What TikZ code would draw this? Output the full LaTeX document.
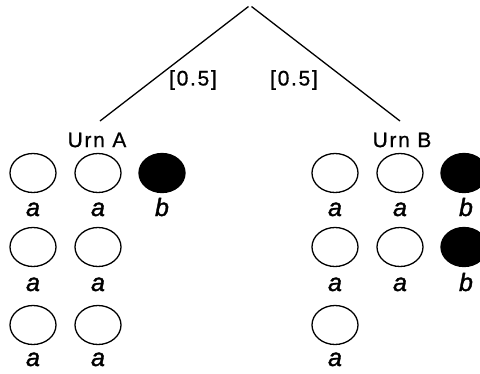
\documentclass[tikz,border=0pt]{standalone}
\usepackage{fontspec}
\setmainfont{Liberation Sans}
\usetikzlibrary{shapes.geometric}
\newfontfamily\spacedfont[LetterSpace=8,FakeBold=0.8]{Liberation Sans}
\newfontfamily\labelfont[FakeBold=1.5]{Liberation Sans Italic}
\tikzset{
  ball/.style={ellipse, draw=black, line width=1.3pt, minimum width=46pt, minimum height=39pt, inner sep=0pt},
  whiteball/.style={ball, fill=white},
  blackball/.style={ball, fill=black},
  lbl/.style={font=\labelfont\fontsize{25}{25}\selectfont, inner sep=0pt, anchor=base},
  urn/.style={font=\spacedfont\fontsize{21}{21}\selectfont, inner sep=0pt},
  prob/.style={font=\spacedfont\fontsize{21}{21}\selectfont, inner sep=0pt},
  branch/.style={line width=1.3pt}
}
\begin{document}
\begin{tikzpicture}[x=1pt,y=-1pt]
\useasboundingbox (0,0) rectangle (480,373);
\clip (0,0) rectangle (480,373);
% tree
\coordinate (topA) at (248.5,6.5);
\coordinate (topB) at (251.5,6.5);
\coordinate (endA) at (100,121);
\coordinate (endB) at (400,121);
\draw[branch] (topA) -- (endA);
\draw[branch] (topB) -- (endB);
\node[prob] (pA) at (193,80) {[0.5]};
\node[prob] (pB) at (294,80) {[0.5]};
\node[urn] (urnA) at (97,140) {Urn A};
\node[urn] (urnB) at (402,140) {Urn B};
% Urn A
\node[whiteball] (a11) at (33,173) {};
\node[whiteball] (a12) at (98,173) {};
\node[blackball] (a13) at (162,173) {};
\node[whiteball] (a21) at (33,247) {};
\node[whiteball] (a22) at (98,247) {};
\node[whiteball] (a31) at (33,325) {};
\node[whiteball] (a32) at (98,325) {};
\node[lbl] (la11) at (33,216) {a};
\node[lbl] (la12) at (98,216) {a};
\node[lbl] (la13) at (162,216) {b};
\node[lbl] (la21) at (33,291) {a};
\node[lbl] (la22) at (98,291) {a};
\node[lbl] (la31) at (33,366) {a};
\node[lbl] (la32) at (98,366) {a};
% Urn B
\node[whiteball] (b11) at (335,173) {};
\node[whiteball] (b12) at (400,173) {};
\node[blackball] (b13) at (464,173) {};
\node[whiteball] (b21) at (335,247) {};
\node[whiteball] (b22) at (400,247) {};
\node[blackball] (b23) at (464,247) {};
\node[whiteball] (b31) at (335,325) {};
\node[lbl] (lb11) at (335,216) {a};
\node[lbl] (lb12) at (400,216) {a};
\node[lbl] (lb13) at (466,216) {b};
\node[lbl] (lb21) at (335,291) {a};
\node[lbl] (lb22) at (400,291) {a};
\node[lbl] (lb23) at (466,291) {b};
\node[lbl] (lb31) at (335,366) {a};
\end{tikzpicture}
\end{document}
